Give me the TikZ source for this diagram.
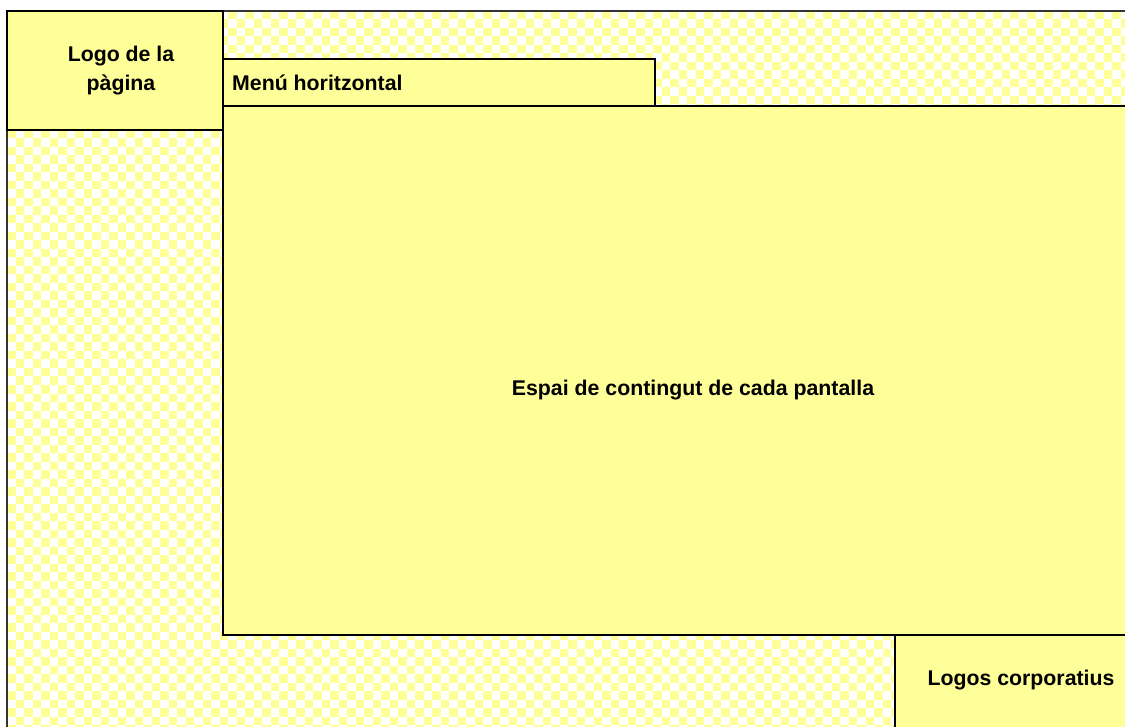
\documentclass[tikz,border=0pt]{standalone}
\usepackage{fontspec}
\setmainfont{Liberation Sans}
\definecolor{paleyellow}{HTML}{FFFF99}
\definecolor{frame}{HTML}{333333}
\tikzset{
  zone/.style={draw=black, line width=2.2pt, fill=paleyellow},
  lbl/.style={font=\fontsize{21.3}{29}\selectfont\bfseries, align=center, inner sep=0pt},
  checksq/.style={fill=paleyellow},
}
\begin{document}
\begin{tikzpicture}[x=1pt,y=-1pt]
\useasboundingbox (0,0) rectangle (1125,727);
\clip (0,0) rectangle (1125,727);
% background checker area
\fill[white] (7,11) rectangle (1140,740);
\foreach \i [evaluate=\i as \off using {int(mod(\i,2))}] in {0,...,132} {
  \foreach \j in {0,...,42} {
    \path[checksq] ({7+\i*8.5},{11+(2*\j+\off)*8.5}) rectangle ++(8.5,8.5);
  }
}
\draw[frame, line width=2.2pt] (7,740) -- (7,11) -- (1140,11);
% zones
\draw[zone] (223,106) rectangle (1140,635);
\coordinate (content) at (693,390);
\node[lbl] (contentlbl) at (content) {Espai de contingut de cada pantalla};
\draw[zone] (7,11) rectangle (223,130);
\node[lbl] (logo) at (121,71) {Logo de la\\pàgina};
\draw[zone] (223,59) rectangle (655,106);
\node[lbl, anchor=west] (menu) at (232,83) {Menú horitzontal};
\draw[zone] (895,635) rectangle (1140,740);
\node[lbl] (corp) at (1021,680) {Logos corporatius};
\end{tikzpicture}
\end{document}
